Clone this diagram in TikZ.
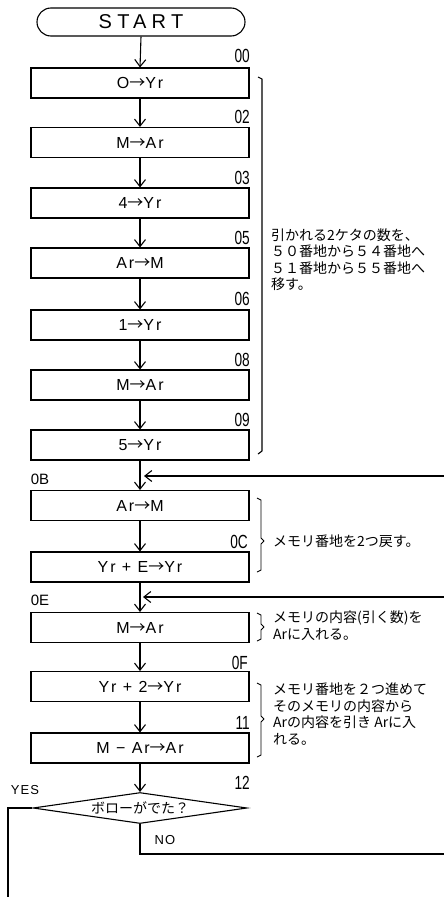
\documentclass[tikz,border=0pt]{standalone}
\usepackage{fontspec}
\setmainfont{Liberation Sans}
\newfontfamily\jpfont{Noto Sans CJK JP}
\newfontfamily\spfont[LetterSpace=26]{Liberation Sans}
\newfontfamily\bxfont[LetterSpace=12]{Liberation Sans}
\newfontfamily\ynfont[LetterSpace=8]{Liberation Sans}
\newfontfamily\numfont[FakeStretch=0.72]{Liberation Sans}
\newcommand\arw{{\jpfont →}}
\usetikzlibrary{shapes.geometric,arrows.meta}
\begin{document}
\begin{tikzpicture}[x=1pt,y=-1pt,
  proc/.style={draw, line width=1.1pt, minimum width=218pt, minimum height=30pt, inner sep=0pt,
    font=\bxfont\fontsize{16}{16}\selectfont},
  term/.style={draw, line width=1.1pt, rounded corners=14pt, minimum width=208pt, minimum height=28pt,
    inner sep=0pt, font=\spfont\fontsize{20}{20}\selectfont},
  dec/.style={draw, line width=1.1pt, shape=diamond, aspect=6.9, inner sep=0pt,
    minimum width=214pt, minimum height=31pt, font=\jpfont\fontsize{14}{14}\selectfont},
  flow/.style={line width=1.1pt, -{Straight Barb[length=7pt,width=11pt,line width=1.1pt]}},
  line/.style={line width=1.1pt},
  brk/.style={line width=0.9pt, line join=round},
  lbl/.style={anchor=east, inner sep=0pt, font=\numfont\fontsize{19}{19}\selectfont},
  llbl/.style={inner sep=0pt, font=\fontsize{15}{15}\selectfont},
  yn/.style={inner sep=0pt, font=\ynfont\fontsize{13}{13}\selectfont},
  note/.style={anchor=west, align=left, inner sep=0pt, font=\jpfont\fontsize{14}{16.5}\selectfont}]
\useasboundingbox (0,0) rectangle (444,897);

% main column
\node[term] (start) at (141,22) {START};
\node[proc] (b1) at (140,83) {O\arw Yr};
\node[proc] (b2) at (140,142.5) {M\arw Ar};
\node[proc] (b3) at (140,203) {4\arw Yr};
\node[proc] (b4) at (140,263) {Ar\arw M};
\node[proc] (b5) at (140,325) {1\arw Yr};
\node[proc] (b6) at (140,385) {M\arw Ar};
\node[proc] (b7) at (140,445) {5\arw Yr};
\node[proc] (b8) at (140,505.5) {Ar\arw M};
\node[proc] (b9) at (140,567) {Yr + E\arw Yr};
\node[proc] (b10) at (140,627.5) {M\arw Ar};
\node[proc] (b11) at (140,686.5) {Yr + 2\arw Yr};
\node[proc] (b12) at (140,748) {M − Ar\arw Ar};
\node[dec] (d) at (140,808) {ボローがでた？};

% address labels
\node[lbl] (l00) at (250,56) {00};
\node[lbl] (l02) at (250,117) {02};
\node[lbl] (l03) at (250,178) {03};
\node[lbl] (l05) at (250,238) {05};
\node[lbl] (l06) at (250,299) {06};
\node[lbl] (l08) at (250,360) {08};
\node[lbl] (l09) at (250,420) {09};
\node[lbl] (l0C) at (248,542) {0C};
\node[lbl] (l0F) at (248,663) {0F};
\node[lbl] (l11) at (250,723) {11};
\node[lbl] (l12) at (250,783) {12};
\node[llbl] (l0B) at (40,479) {0B};
\node[llbl] (l0E) at (40,600) {0E};
\node[yn] (yes) at (25,790) {YES};
\node[yn] (no) at (165,840) {NO};

% flow arrows
\draw[flow] (start.south) -- (b1.north);
\draw[flow] (b1.south) -- (b2.north);
\draw[flow] (b2.south) -- (b3.north);
\draw[flow] (b3.south) -- (b4.north);
\draw[flow] (b4.south) -- (b5.north);
\draw[flow] (b5.south) -- (b6.north);
\draw[flow] (b6.south) -- (b7.north);
\draw[flow] (b7.south) -- (b8.north);
\draw[flow] (b8.south) -- (b9.north);
\draw[flow] (b9.south) -- (b10.north);
\draw[flow] (b10.south) -- (b11.north);
\draw[flow] (b11.south) -- (b12.north);
\draw[flow] (b12.south) -- (d.north);

% loop-back arrows
\coordinate (r0B) at (444,476);
\coordinate (j0B) at (140,476);
\coordinate (r0E) at (444,597);
\coordinate (j0E) at (140,597);
\draw[flow, shorten >=4pt] (r0B) -- (j0B);
\draw[flow, shorten >=3pt] (r0E) -- (j0E);

% branches
\coordinate (yesEnd) at (8,897);
\coordinate (noEnd) at (444,854);
\draw[line] (d.west) -| (yesEnd);
\draw[line] (d.south) |- (noEnd);

% brackets
\draw[line width=1.1pt, line join=round] (258,77) -- (262,79) -- (262,451) -- (258,454);
\draw[brk] (257,498) -- (261,500) -- (261,538) -- (264,541) -- (261,544) -- (261,570) -- (257,572);
\draw[brk] (257,613) -- (261,615) -- (261,624) -- (264,627) -- (261,630) -- (261,639) -- (257,641);
\draw[brk] (257,683) -- (261,685) -- (261,716) -- (264,719) -- (261,722) -- (261,755) -- (257,757);

% notes
\node[note] (n1) at (271,259.5) {引かれる2ケタの数を、\\５０番地から５４番地へ\\５１番地から５５番地へ\\移す。};
\node[note] (n2) at (273,541) {メモリ番地を2つ戻す。};
\node[note] (n3) at (273,625.5) {メモリの内容(引く数)を\\Arに入れる。};
\node[note] (n4) at (273,714) {メモリ番地を２つ進めて\\そのメモリの内容から\\Arの内容を引き Arに入\\れる。};
\end{tikzpicture}
\end{document}
